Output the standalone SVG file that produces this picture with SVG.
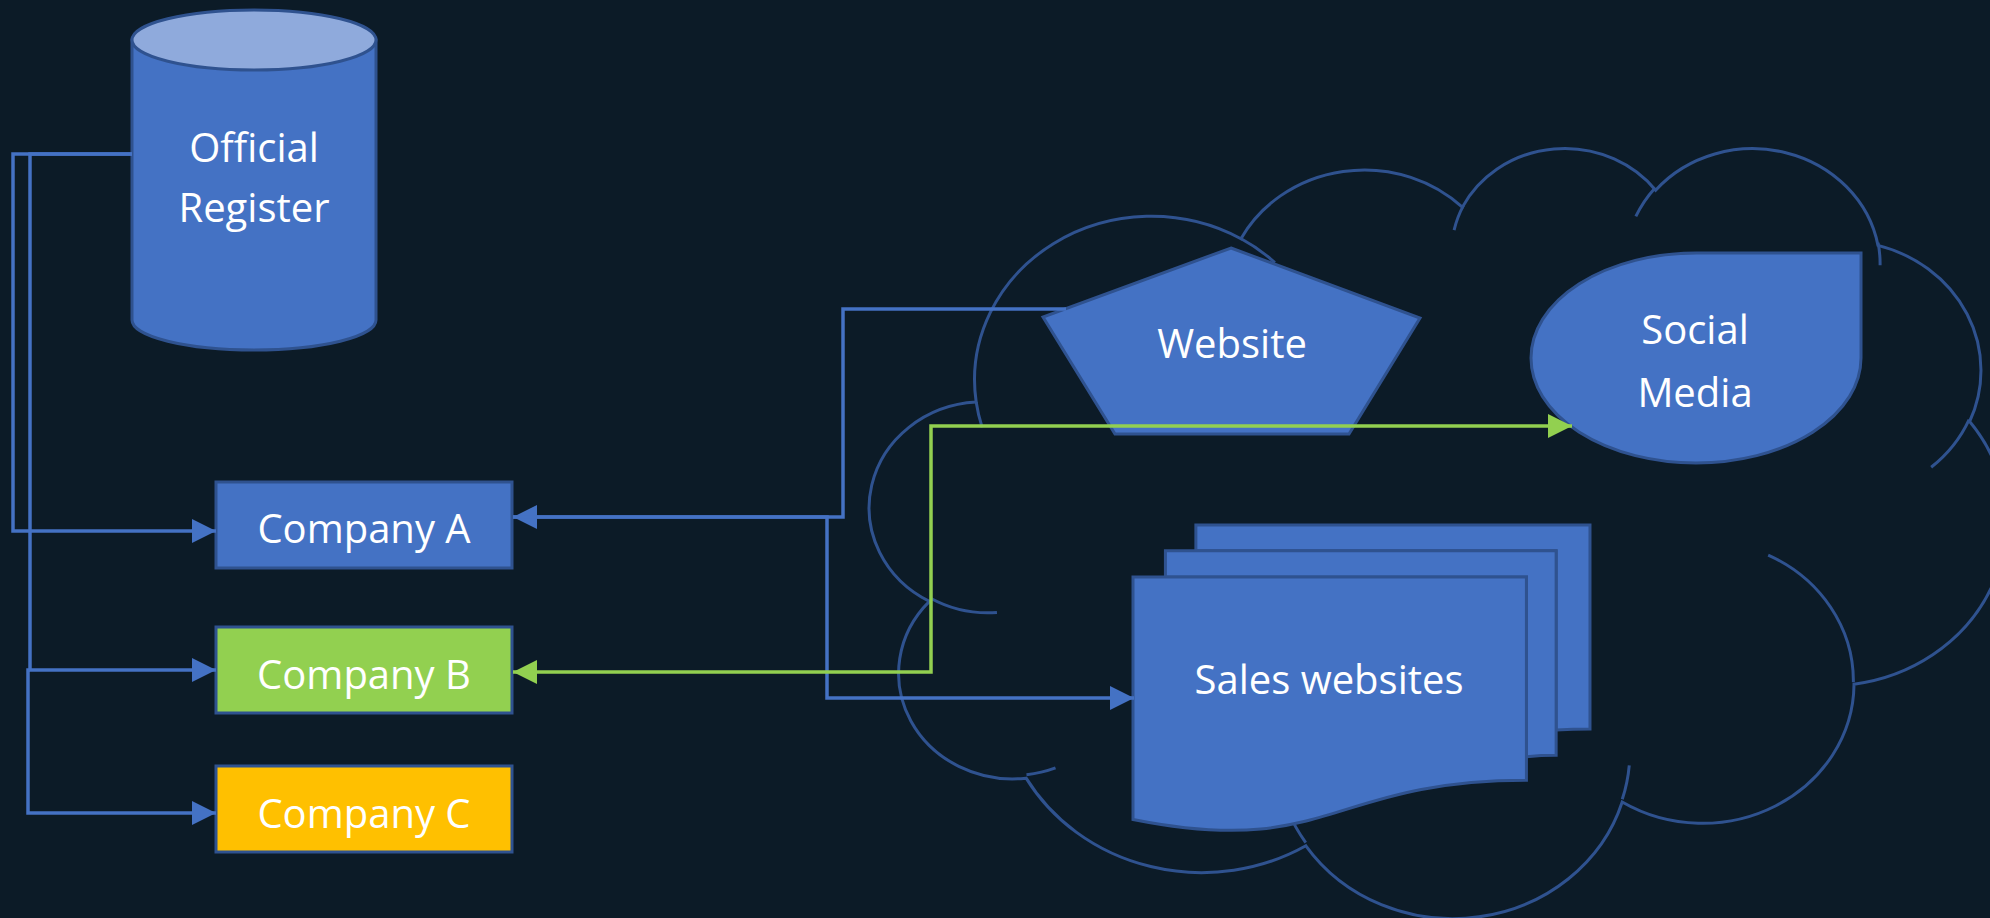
<svg xmlns="http://www.w3.org/2000/svg" width="1990" height="918" viewBox="0 0 1990 918">
<style>
.shape{fill:#4472c4;stroke:#2f528f;stroke-width:3}
.ns{vector-effect:non-scaling-stroke}
.cloud{fill:none;stroke:#2f528f;stroke-width:3;vector-effect:non-scaling-stroke}
.lbl{font-family:"Open Sans","Noto Sans","Liberation Sans",sans-serif;font-size:40px;fill:#ffffff;text-anchor:middle}
.conn{fill:none;stroke-width:3.5}
.blue{stroke:#4472c4}
.green{stroke:#92d050}
</style>
<defs>
<marker id="ab" markerWidth="24" markerHeight="24" refX="24" refY="12" orient="auto" markerUnits="userSpaceOnUse"><path d="M0,0 L24,12 L0,24 Z" fill="#4472c4"/></marker>
<marker id="ag" markerWidth="24" markerHeight="24" refX="24" refY="12" orient="auto-start-reverse" markerUnits="userSpaceOnUse"><path d="M0,0 L24,12 L0,24 Z" fill="#92d050"/></marker>
</defs>
<rect x="0" y="0" width="1990" height="918" fill="#0c1b27"/>

<g id="cloud" transform="translate(874,146) scale(0.0262,0.01782)">
<path class="cloud" d="M3900 14370 A6753 9190 0 0 1 14005 5202 A5333 7267 0 0 1 22457 3432 A4365 5945 0 0 1 29834 2480 A4857 6595 0 0 1 38319 5576 A5333 7273 0 0 1 41819 15460 A6775 9220 0 0 1 37405 30203 A5785 7867 0 0 1 28557 36814 A6752 9215 0 0 1 16484 39269 A7720 10543 0 0 1 5807 35474 A4360 5918 0 0 1 2116 25552 A4345 5945 0 0 1 3900 14370 Z"/>
<path class="cloud" d="M4693 26177 A4345 5945 0 0 1 2160 25380 M6928 34899 A4360 5918 0 0 1 5820 35281 M16478 39090 A6752 9215 0 0 1 15808 37346 M28827 34751 A6752 9215 0 0 1 28560 36660 M34129 22954 A5785 7867 0 0 1 37381 30090 M41798 15354 A5333 7273 0 0 1 40350 18030 M38324 5426 A4857 6595 0 0 1 38400 6690 M29078 3952 A4857 6595 0 0 1 29820 2339 M22141 4720 A4365 5945 0 0 1 22500 3331 M14000 5192 A6753 9190 0 0 1 15301 6542 M4127 15789 A6753 9190 0 0 1 3900 14370"/>
</g>

<g id="register">
<path class="shape" d="M132 40 V320 A122 30 0 0 0 376 320 V40 Z"/>
<ellipse cx="254" cy="40" rx="122" ry="30" fill="#8faadc" stroke="#2f528f" stroke-width="3"/>
<text class="lbl" x="254" y="162">Official</text>
<text class="lbl" x="254" y="222">Register</text>
</g>

<g id="companyA">
<rect class="shape" x="216" y="482" width="296" height="86"/>
<text class="lbl" x="364" y="543">Company A</text>
</g>
<g id="companyB">
<rect class="shape" x="216" y="627" width="296" height="86" style="fill:#92d050"/>
<text class="lbl" x="364" y="689">Company B</text>
</g>
<g id="companyC">
<rect class="shape" x="216" y="766" width="296" height="86" style="fill:#ffc000"/>
<text class="lbl" x="364" y="828">Company C</text>
</g>

<g id="website">
<polygon class="shape" points="1231,248 1420,318 1349,434 1115,434 1043,317"/>
<text class="lbl" x="1232" y="358">Website</text>
</g>

<g id="social">
<path class="shape" d="M1531 358 A165 105 0 0 1 1696 253 L1861 253 L1861 358 A165 105 0 0 1 1696 463 A165 105 0 0 1 1531 358 Z"/>
<text class="lbl" x="1695" y="344">Social</text>
<text class="lbl" x="1695" y="407">Media</text>
</g>

<g id="sales">
<g transform="translate(1133,525) scale(0.021157,0.014167)">
<path class="shape ns" d="M2972 1815 L2972 0 L21600 0 L21600 14392 C20800 14392 20000 14467 20000 14467 L20000 1815 Z"/>
<path class="shape ns" d="M1532 3675 L1532 1815 L20000 1815 L20000 16252 C19298 16252 18595 16352 18595 16352 L18595 3675 Z"/>
<path class="shape ns" d="M0 20782 C9298 23542 9298 18022 18595 18022 L18595 3675 L0 3675 Z"/>
</g>
<text class="lbl" x="1329" y="694">Sales websites</text>
</g>

<g id="connectors">
<path class="conn blue" d="M132 154 H13 V531 H216" marker-end="url(#ab)"/>
<path class="conn blue" d="M132 154 H30 V670 H216" marker-end="url(#ab)"/>
<path class="conn blue" d="M30 670 H28 V813 H216" marker-end="url(#ab)"/>
<path class="conn blue" d="M1066 309 H843 V517 H513" marker-end="url(#ab)"/>
<path class="conn blue" d="M513 517 H827 V698 H1134" marker-end="url(#ab)"/>
<path class="conn green" d="M513 672 H931 V426 H1572" marker-start="url(#ag)" marker-end="url(#ag)"/>
</g>
</svg>
